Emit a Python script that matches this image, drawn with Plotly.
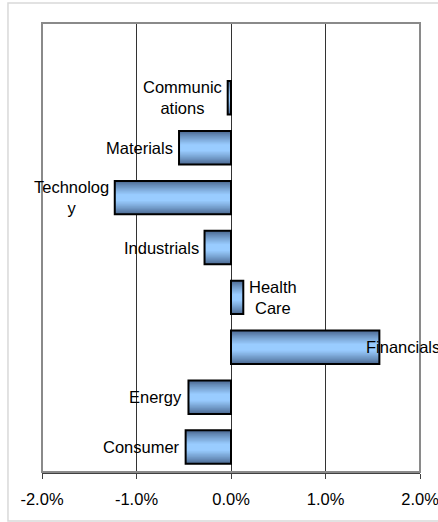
import plotly.graph_objects as go

# ---- data (bottom to top) ----
sectors = ["Consumer", "Energy", "Financials", "Health Care",
           "Industrials", "Technology", "Materials", "Communications"]
label_text = ["Consumer", "Energy", "Financials", "Health<br>Care",
              "Industrials", "Technolog<br>y", "Materials", "Communic<br>ations"]
values = [-0.48, -0.45, 1.57, 0.13, -0.28, -1.23, -0.55, -0.035]  # percent

tick_vals = [-2, -1, 0, 1, 2]
tick_text = ["-2.0%", "-1.0%", "0.0%", "1.0%", "2.0%"]

FONT = "Liberation Sans, Arial, sans-serif"
FS = 16.5

fig = go.Figure()

# gradient-like fill: layered bars, dark outer to light inner
full_w = 0.67
dark = (74, 104, 144)
light = (153, 204, 255)
N = 16
for i in range(N):
    t = i / (N - 1)
    w = full_w * (1 - 0.8 * t)
    tt = t ** 0.85
    c = tuple(int(round(dark[k] + (light[k] - dark[k]) * tt)) for k in range(3))
    fig.add_trace(go.Bar(
        x=values, y=sectors, orientation="h", width=w,
        marker=dict(color="rgb(%d,%d,%d)" % c, line=dict(width=0)),
        hoverinfo="skip", showlegend=False,
    ))

# outline
fig.add_trace(go.Bar(
    x=values, y=sectors, orientation="h", width=full_w,
    marker=dict(color="rgba(0,0,0,0)", line=dict(color="black", width=2)),
    showlegend=False,
))

# labels
for s, lab, v in zip(sectors, label_text, values):
    if v < 0:
        anchor, shift = "right", -4
    elif s == "Financials":
        anchor, shift = "left", -15
    else:
        anchor, shift = "left", 4
    fig.add_annotation(
        x=v, y=s, text=lab, showarrow=False, xanchor=anchor, yanchor="middle",
        xshift=shift, align="center",
        font=dict(family=FONT, size=FS, color="black"),
    )

# plot-area frame (gray) and outer chart border (light gray)
fig.add_shape(type="rect", xref="paper", yref="paper", x0=0, x1=1, y0=0, y1=1,
              line=dict(color="#8a8a8a", width=2), layer="above")
fig.add_shape(type="rect", xref="paper", yref="paper",
              x0=-0.09, x1=1.2, y0=-0.109, y1=1.0445,
              line=dict(color="#d9d9d9", width=1.5), layer="below")

fig.update_layout(
    width=438, height=522,
    margin=dict(l=42, r=18, t=23, b=50, autoexpand=False),
    barmode="overlay",
    paper_bgcolor="white", plot_bgcolor="white",
    font=dict(family=FONT, size=FS, color="black"),
    xaxis=dict(
        range=[-2, 2], tickvals=tick_vals, ticktext=tick_text,
        showgrid=True, gridcolor="#333333", gridwidth=1,
        zeroline=False, showline=True, linecolor="#404040", linewidth=1.5,
        ticks="outside", ticklen=5, tickcolor="#404040", tickwidth=1,
        ticklabelstandoff=6, ticklabeloverflow="allow", automargin=False,
        tickfont=dict(family=FONT, size=FS, color="black"),
        fixedrange=True,
    ),
    yaxis=dict(
        categoryorder="array", categoryarray=sectors,
        range=[-0.5, 8.5], showticklabels=False, showgrid=False,
        zeroline=False, showline=False, ticks="", fixedrange=True,
        automargin=False,
    ),
)

fig.write_html(
    "out.html",
    config={"displayModeBar": False},
    post_script="document.body.style.margin='0';document.body.style.overflow='hidden';",
)
